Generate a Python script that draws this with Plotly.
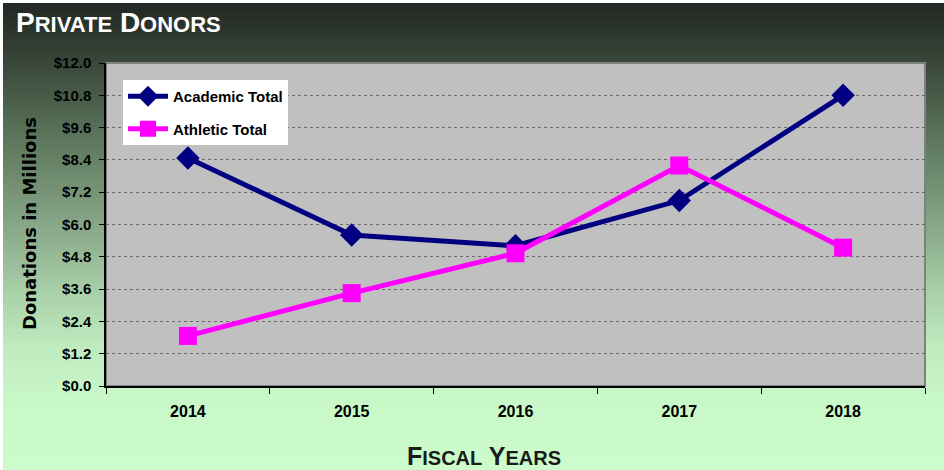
import plotly.graph_objects as go

years = ["2014", "2015", "2016", "2017", "2018"]
academic = [8.47, 5.61, 5.21, 6.89, 10.8]
athletic = [1.86, 3.45, 4.93, 8.19, 5.14]
y_ticks = [0, 1.2, 2.4, 3.6, 4.8, 6.0, 7.2, 8.4, 9.6, 10.8, 12.0]
y_tick_labels = ["$%.1f" % v for v in y_ticks]

W, H = 944, 470
ML, MR, MT, MB = 106, 19, 63, 84
PW = W - ML - MR
PH = H - MT - MB


def px_x(px):
    return (px - ML) / PW


def px_y(py):
    return (H - MB - py) / PH


stops = [
    (3, (34, 40, 36)), (50, (52, 64, 52)), (100, (74, 94, 74)),
    (150, (98, 125, 98)), (200, (122, 152, 122)), (250, (148, 182, 148)),
    (300, (172, 212, 172)), (350, (192, 236, 192)), (400, (200, 248, 200)),
    (470, (204, 252, 204)),
]


def col_at(y):
    for (y0, c0), (y1, c1) in zip(stops[:-1], stops[1:]):
        if y0 <= y <= y1:
            t = (y - y0) / (y1 - y0)
            return tuple(int(round(a + (b - a) * t)) for a, b in zip(c0, c1))
    return stops[-1][1]


shapes = []
band = 4
y = 3
while y < H:
    c = col_at(y + band / 2)
    shapes.append(dict(type="rect", xref="paper", yref="paper",
                       x0=px_x(3), x1=px_x(W + 2), y0=px_y(min(y + band + 0.5, H + 2)), y1=px_y(y),
                       fillcolor="rgb(%d,%d,%d)" % c, line=dict(width=0), layer="below"))
    y += band

# plot area
shapes.append(dict(type="rect", xref="paper", yref="paper", x0=0, x1=1, y0=0, y1=1,
                   fillcolor="#c0c0c0", line=dict(color="#808080", width=2), layer="below"))

fig = go.Figure()
fig.add_trace(go.Scatter(x=years, y=academic, name="Academic Total", mode="lines+markers",
                         line=dict(color="#000080", width=5),
                         marker=dict(symbol="diamond", size=18, color="#000080"),
                         legendgroup="a"))
fig.add_trace(go.Scatter(x=years, y=athletic, name="Athletic Total", mode="lines+markers",
                         line=dict(color="#ff00ff", width=5),
                         marker=dict(symbol="square", size=18, color="#ff00ff"),
                         legendgroup="b"))

bold = "Liberation Sans, Arial, sans-serif"

annotations = [
    dict(text="<b>P<span style='font-size:22px'>RIVATE</span> D<span style='font-size:22px'>ONORS</span></b>",
         xref="paper", yref="paper", x=px_x(14), y=px_y(22), xanchor="left", yanchor="middle",
         showarrow=False, font=dict(family=bold, size=28, color="white")),
    dict(text="<b>F<span style='font-size:20px'>ISCAL</span> Y<span style='font-size:20px'>EARS</span></b>",
         xref="paper", yref="paper", x=px_x(484), y=px_y(456), xanchor="center", yanchor="middle",
         showarrow=False, font=dict(family=bold, size=25, color="#1a1a1a")),
    dict(text="<b>Donations in Millions</b>", textangle=-90,
         xref="paper", yref="paper", x=px_x(29), y=px_y(224), xanchor="center", yanchor="middle",
         showarrow=False, font=dict(family="DejaVu Sans, Verdana, sans-serif", size=18, color="black")),
]

fig.update_layout(
    width=W, height=H,
    margin=dict(l=ML, r=MR, t=MT, b=MB, pad=0),
    paper_bgcolor="white",
    plot_bgcolor="#c0c0c0",
    shapes=shapes,
    annotations=annotations,
    showlegend=True,
    legend=dict(x=px_x(123), y=px_y(80), xanchor="left", yanchor="top",
                bgcolor="white", borderwidth=0, traceorder="grouped", tracegroupgap=10,
                font=dict(family=bold, size=15, color="black", weight="bold"),
                itemwidth=40),
    xaxis=dict(type="category", range=[-0.5, 4.5], showgrid=False,
               showline=True, linecolor="black", linewidth=2,
               ticks="outside", tickson="boundaries", ticklen=6, tickcolor="black",
               tickfont=dict(family=bold, size=16, color="black", weight="bold"),
               ticklabelstandoff=10, zeroline=False),
    yaxis=dict(range=[0, 12], tickvals=y_ticks, ticktext=y_tick_labels,
               showgrid=True, gridcolor="#6a6a6a", gridwidth=1, griddash="dot",
               showline=True, linecolor="black", linewidth=1.5,
               ticks="outside", ticklen=5, tickcolor="black",
               tickfont=dict(family=bold, size=15, color="black", weight="bold"),
               ticklabelstandoff=5, zeroline=False),
)

fig.write_html("out.html", config={"displayModeBar": False},
               post_script="document.body.style.margin='0';")
